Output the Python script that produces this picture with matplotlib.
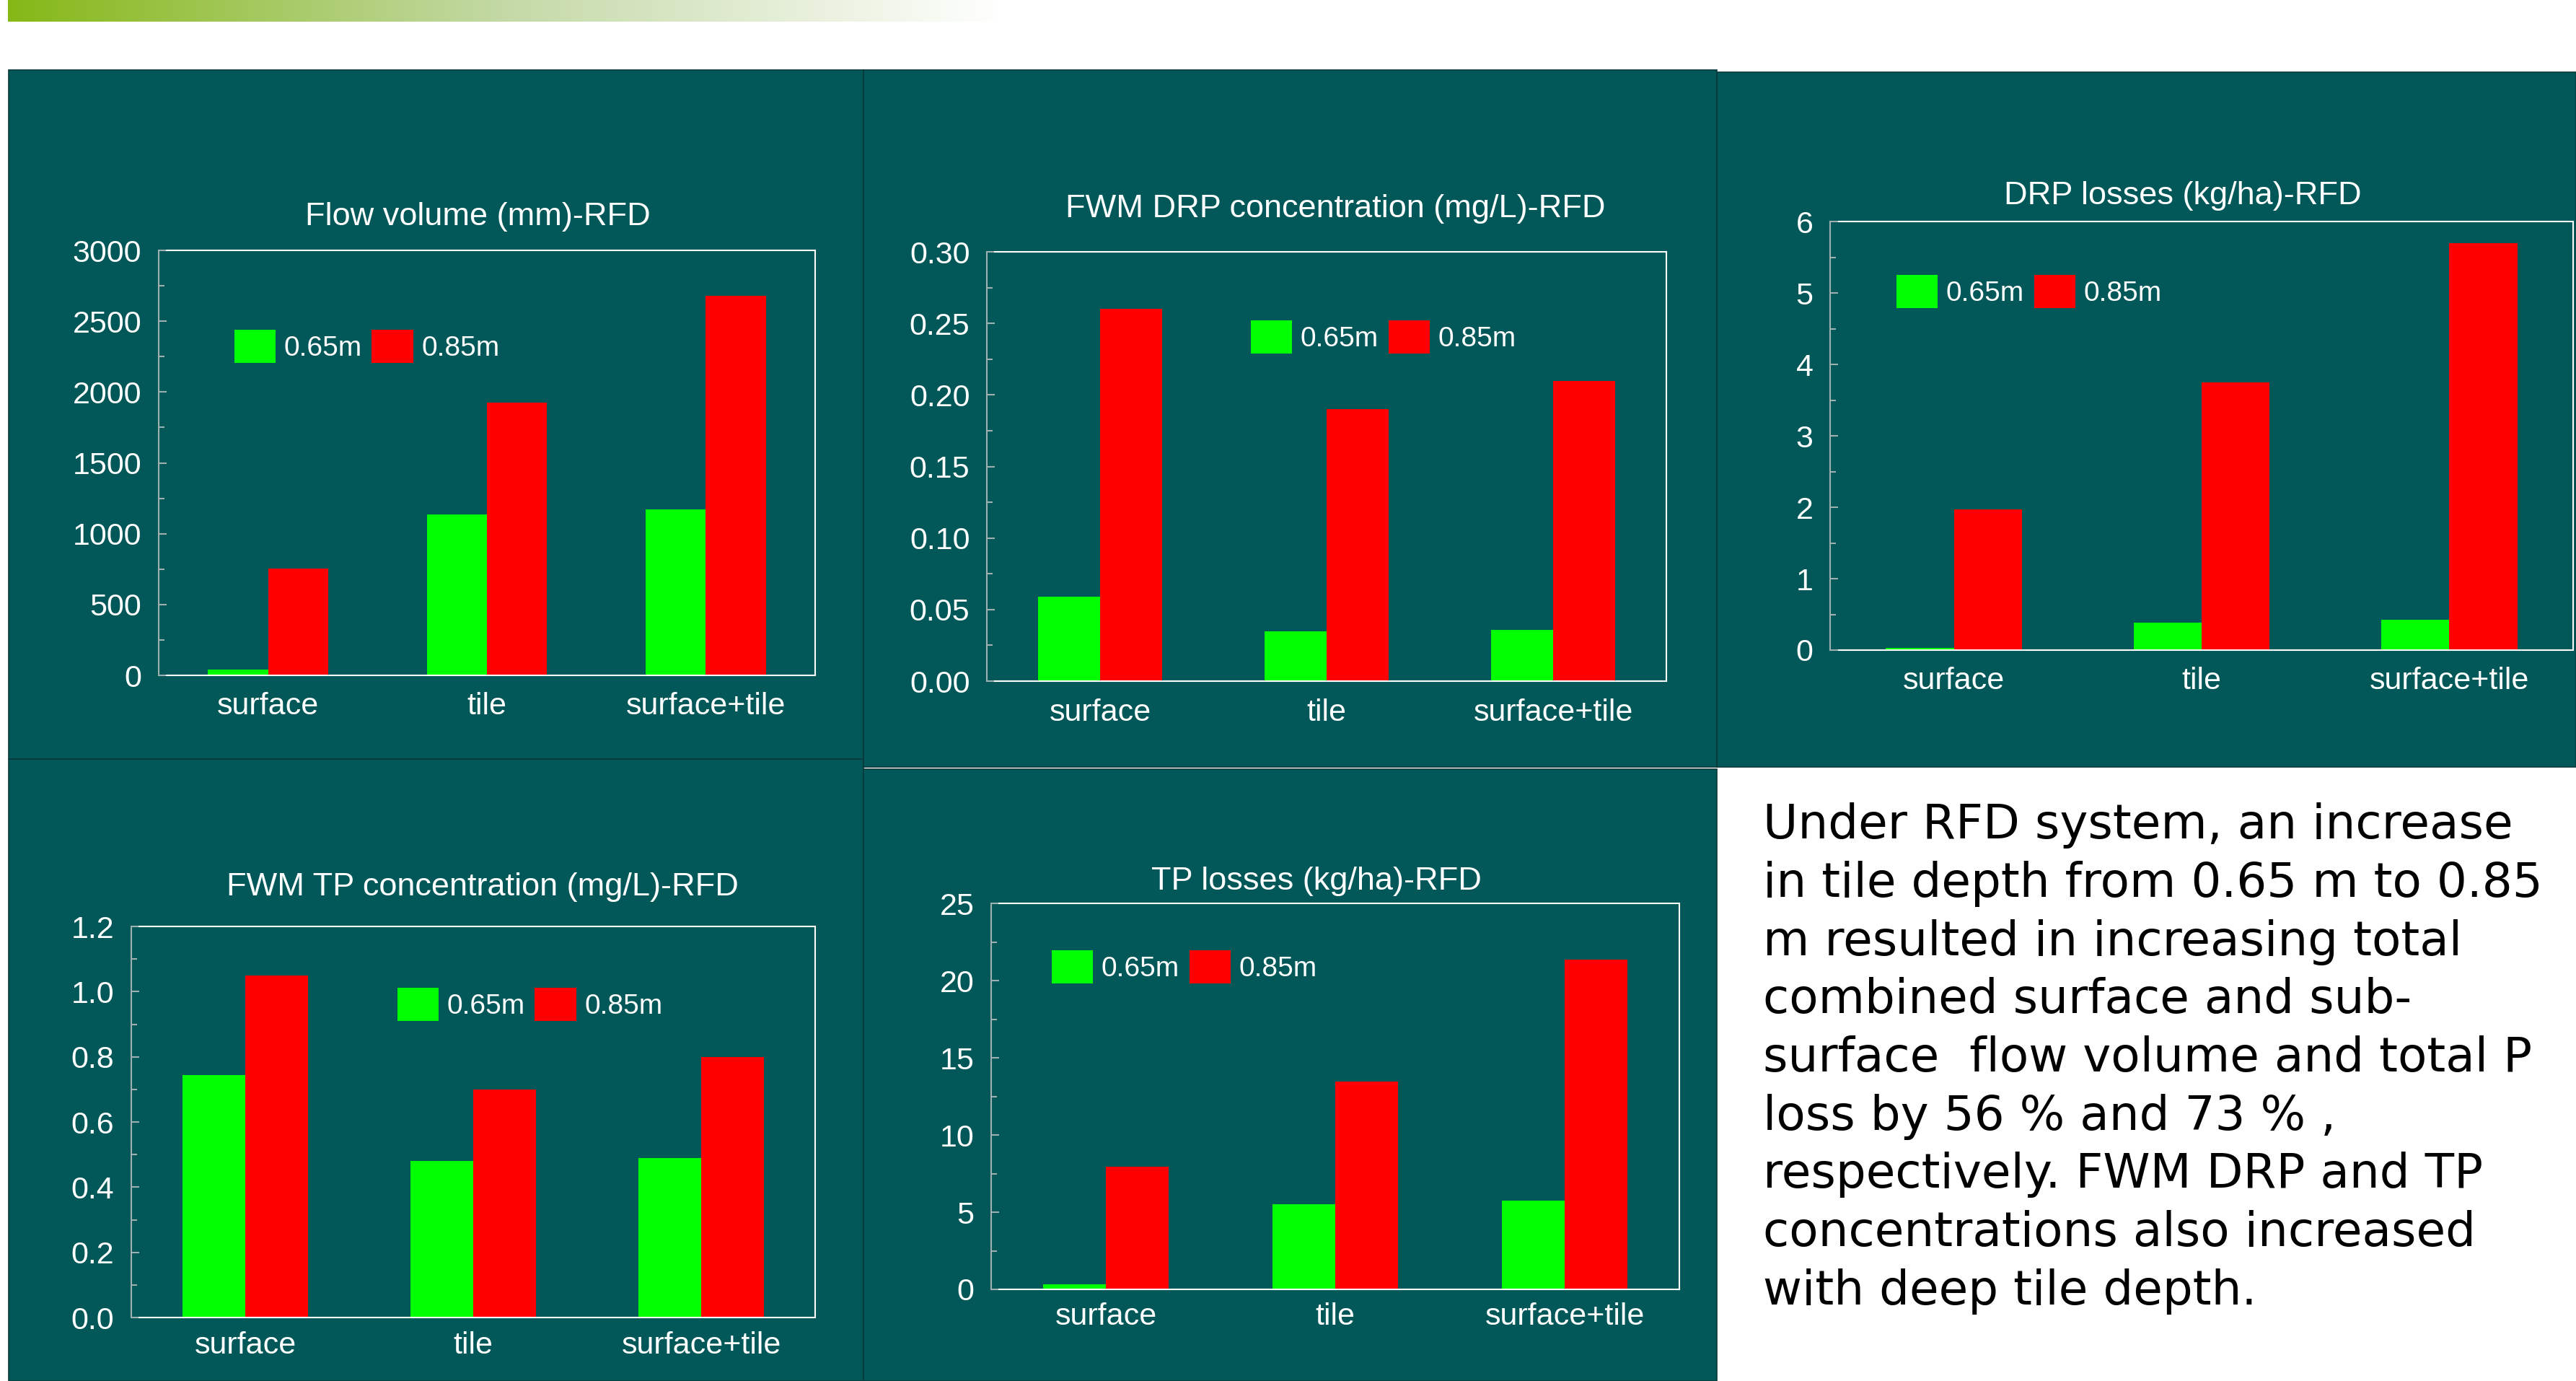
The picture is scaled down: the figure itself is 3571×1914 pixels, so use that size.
import numpy as np
import matplotlib.pyplot as plt
from matplotlib.patches import Rectangle, Patch
from matplotlib.colors import LinearSegmentedColormap
from matplotlib.ticker import MultipleLocator, FormatStrFormatter

plt.rcParams['font.family'] = ['Liberation Sans', 'DejaVu Sans']

W, H = 3571, 1914
DPI = 100

# data
categories = ['surface', 'tile', 'surface+tile']
depths = ['0.65m', '0.85m']

flow_065 = [40, 1138, 1170]
flow_085 = [753, 1925, 2680]
drp_conc_065 = [0.059, 0.035, 0.036]
drp_conc_085 = [0.260, 0.190, 0.210]
drp_loss_065 = [0.03, 0.38, 0.42]
drp_loss_085 = [1.97, 3.75, 5.70]
tp_conc_065 = [0.745, 0.48, 0.49]
tp_conc_085 = [1.05, 0.70, 0.80]
tp_loss_065 = [0.33, 5.5, 5.75]
tp_loss_085 = [7.95, 13.45, 21.35]

summary = ("Under RFD system, an increase\n"
           "in tile depth from 0.65 m to 0.85\n"
           "m resulted in increasing total\n"
           "combined surface and sub-\n"
           "surface  flow volume and total P\n"
           "loss by 56 % and 73 % ,\n"
           "respectively. FWM DRP and TP\n"
           "concentrations also increased\n"
           "with deep tile depth.")

TEAL = '#025758'
EDGE = '#0a3a3a'
GREEN = '#00ff00'
RED = '#ff0000'
AXGRAY = '#9fb0b0'


def rect(x0, y0, x1, y1):
    # pixel box (top-left origin) -> figure fraction
    return [x0 / W, 1 - y1 / H, (x1 - x0) / W, (y1 - y0) / H]


fig = plt.figure(figsize=(W / DPI, H / DPI), dpi=DPI, facecolor='white')

# header gradient strip
gax = fig.add_axes(rect(11, 0, 1390, 30))
cmap = LinearSegmentedColormap.from_list('hdr', ['#86b817', '#c4d9a6', '#ffffff'])
gax.imshow(np.linspace(0, 1, 256)[None, :], aspect='auto', cmap=cmap)
gax.axis('off')

# teal panel backgrounds
for box in [(12, 97, 1197, 1052), (12, 1052, 1197, 1914), (1197, 97, 2380, 1063),
            (1197, 1066, 2380, 1914), (2380, 100, 3571, 1063)]:
    r = rect(*box)
    fig.patches.append(Rectangle((r[0], r[1]), r[2], r[3], transform=fig.transFigure,
                                 facecolor=TEAL, edgecolor=EDGE, lw=1.2, zorder=0))

panels = [
    dict(title='Flow volume (mm)-RFD', v1=flow_065, v2=flow_085, top=3000, major=500, minor=250,
         fmt='%d', box=(220, 347, 1130, 936), tx=0.486, tgap=47, leg=(0.115, 0.774), xgap=39),
    dict(title='FWM DRP concentration (mg/L)-RFD', v1=drp_conc_065, v2=drp_conc_085, top=0.30,
         major=0.05, minor=0.025, fmt='%.2f', box=(1368, 349, 2310, 944), tx=0.513, tgap=59,
         leg=(0.3885, 0.801), xgap=40),
    dict(title='DRP losses (kg/ha)-RFD', v1=drp_loss_065, v2=drp_loss_085, top=6, major=1, minor=0.5,
         fmt='%d', box=(2537, 307, 3567, 901), tx=0.475, tgap=36, leg=(0.0893, 0.837), xgap=39),
    dict(title='FWM TP concentration (mg/L)-RFD', v1=tp_conc_065, v2=tp_conc_085, top=1.2, major=0.2,
         minor=0.1, fmt='%.1f', box=(182, 1284, 1130, 1826), tx=0.514, tgap=54, leg=(0.389, 0.80),
         xgap=35.5),
    dict(title='TP losses (kg/ha)-RFD', v1=tp_loss_065, v2=tp_loss_085, top=25, major=5, minor=2.5,
         fmt='%d', box=(1374, 1252, 2328, 1787), tx=0.473, tgap=31, leg=(0.088, 0.836), xgap=34),
]

x = np.arange(len(categories))
bw = 0.275

for p in panels:
    x0, y0, x1, y1 = p['box']
    ax = fig.add_axes(rect(*p['box']))
    ax.set_zorder(2)
    ax.set_facecolor('none')
    ax.bar(x - bw / 2, p['v1'], bw, color=GREEN, label=depths[0])
    ax.bar(x + bw / 2, p['v2'], bw, color=RED, label=depths[1])
    ax.set_xlim(-0.5, 2.5)
    ax.set_ylim(0, p['top'] * 1.0001)
    ax.yaxis.set_major_locator(MultipleLocator(p['major']))
    ax.yaxis.set_minor_locator(MultipleLocator(p['minor']))
    ax.yaxis.set_major_formatter(FormatStrFormatter(p['fmt']))
    ax.set_xticks(x, categories)
    ax.tick_params(axis='x', length=0, pad=(p['xgap'] - 16) * 0.72, labelsize=31, labelcolor='white')
    ax.tick_params(axis='y', which='both', direction='in', color=AXGRAY, width=1.5,
                   labelsize=31, labelcolor='white', pad=17)
    ax.tick_params(axis='y', which='major', length=8)
    ax.tick_params(axis='y', which='minor', length=6)
    for s in ['top', 'bottom', 'right']:
        ax.spines[s].set_color('white')
        ax.spines[s].set_linewidth(1.5)
    ax.spines['left'].set_color(AXGRAY)
    ax.spines['left'].set_linewidth(1.5)
    ax.spines['top'].set_bounds(-0.465, 2.5)
    ax.spines['bottom'].set_bounds(-0.465, 2.5)

    ax.text(p['tx'], 1 + p['tgap'] / (y1 - y0), p['title'], transform=ax.transAxes,
            ha='center', va='center', fontsize=32.5, color='white')

    handles = [Patch(facecolor=GREEN, edgecolor='none'), Patch(facecolor=RED, edgecolor='none')]
    ax.legend(handles, depths, ncol=2, loc='center left', bbox_to_anchor=p['leg'], frameon=False,
              borderpad=0, borderaxespad=0, handlelength=1.47, handleheight=1.44,
              handletextpad=0.3, columnspacing=0.35, fontsize=28, labelcolor='white')

fig.text(2444 / W, 1 - 1112 / H, summary, ha='left', va='top', fontsize=47.5,
         family='DejaVu Sans', color='black', linespacing=1.335)

fig.savefig('out.png', dpi=DPI, facecolor='white')
